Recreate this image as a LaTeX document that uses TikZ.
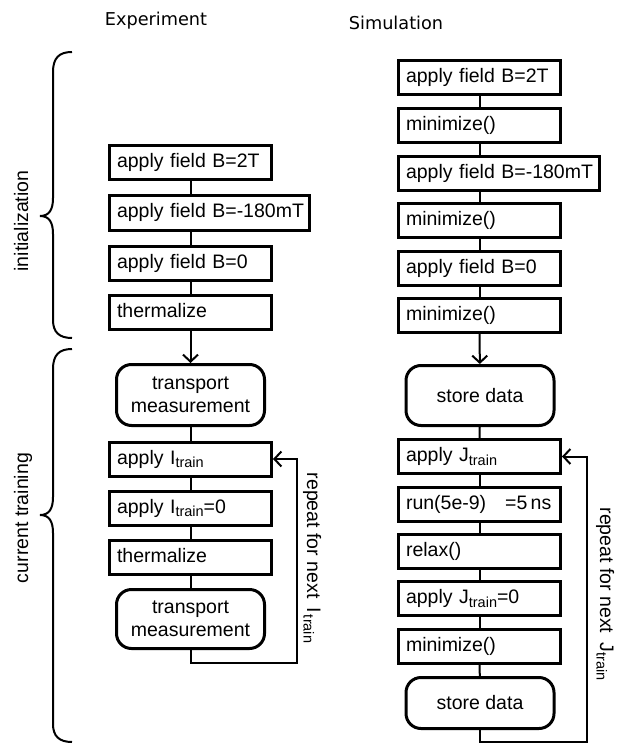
\documentclass[tikz,border=0pt]{standalone}
\usepackage{fontspec}
\setmainfont{Liberation Sans}
\newfontfamily\titlefont{DejaVu Sans}
\usetikzlibrary{arrows.meta}
\newcommand{\lowtxt}[1]{\raisebox{-3.5pt}{\fontsize{14.5}{15}\selectfont #1}}

\begin{document}
\begin{tikzpicture}
      [x=1pt,y=-1pt,
       every node/.style={font=\fontsize{19.5}{23}\selectfont},
       stepbox/.style={draw,line width=3pt,anchor=west,minimum height=34pt,inner xsep=7.5pt,inner ysep=0pt,
                       text width=#1,align=left,text height=14pt,text depth=4pt},
       stepbox/.default=147pt,
       endbox/.style={draw,line width=3pt,rounded corners=15pt,minimum width=148pt,align=center},
       link/.style={line width=2pt},
       flow/.style={line width=2pt,-{Straight Barb[length=7pt,width=15pt]}},
       brace/.style={line width=2pt}]
      \useasboundingbox (0,0) rectangle (634,751);

      % column titles
      \node[font=\titlefont\fontsize{17.7}{20}\selectfont,anchor=base] (exptitle) at (156,26) {Experiment};
      \node[font=\titlefont\fontsize{17.7}{20}\selectfont,anchor=base] (simtitle) at (396,30) {Simulation};

      % experiment
      \node[stepbox] (e1) at (108,163) {apply field B=2T};
      \node[stepbox=185pt] (e2) at (108,213) {\mbox{apply field B=-180mT}};
      \node[stepbox] (e3) at (108,263) {apply field B=0};
      \node[stepbox] (e4) at (108,312) {thermalize};
      \node[endbox,minimum height=61pt] (e5) at (190.5,395) {transport\\measurement};
      \node[stepbox] (e6) at (108,459) {apply I\lowtxt{train}};
      \node[stepbox] (e7) at (108,508) {apply I\lowtxt{train}=0};
      \node[stepbox] (e8) at (108,557) {thermalize};
      \node[endbox,minimum height=59pt] (e9) at (190.5,619) {transport\\measurement};
      \coordinate (eback) at (297,663);

      \draw[link] (e1.south) -- (e1.south |- e2.north);
      \draw[link] (e3.north |- e2.south) -- (e3.north);
      \draw[link] (e3) -- (e4);
      \draw[flow] (e4) -- (e5);
      \draw[link] (e5) -- (e6);
      \draw[link] (e6) -- (e7);
      \draw[link] (e7) -- (e8);
      \draw[link] (e8) -- (e9);
      \draw[flow] (e9.south) |- (eback) |- (e6.east);
      \node[rotate=-90,anchor=base] (erepeat) at (307,558) {repeat for next\hspace{9pt}I\hspace{2pt}\lowtxt{train}};

      % simulation
      \node[stepbox] (s1) at (397,78) {apply field B=2T};
      \node[stepbox] (s2) at (397,125.5) {minimize()};
      \node[stepbox=186pt] (s3) at (397,173.5) {\mbox{apply field B=-180mT}};
      \node[stepbox] (s4) at (397,220.5) {minimize()};
      \node[stepbox] (s5) at (397,268) {apply field B=0};
      \node[stepbox] (s6) at (397,315) {minimize()};
      \node[endbox,minimum height=60pt] (s7) at (480,395.5) {store data};
      \node[stepbox] (s8) at (397,456.5) {apply J\lowtxt{train}};
      \node[stepbox] (s9) at (397,504.5) {\mbox{run(5e-9)\hspace{19pt}=5\,ns}};
      \node[stepbox] (s10) at (397,551.5) {relax()};
      \node[stepbox] (s11) at (397,598.5) {apply J\lowtxt{train}=0};
      \node[stepbox] (s12) at (397,646) {minimize()};
      \node[endbox,minimum height=51pt] (s13) at (480,703) {store data};
      \coordinate (sback) at (587,742);

      \draw[link] (s1) -- (s2);
      \draw[link] (s2.south) -- (s2.south |- s3.north);
      \draw[link] (s4.north |- s3.south) -- (s4.north);
      \draw[link] (s4) -- (s5);
      \draw[link] (s5) -- (s6);
      \draw[flow] (s6) -- (s7);
      \draw[link] (s7) -- (s8);
      \draw[link] (s8) -- (s9);
      \draw[link] (s9) -- (s10);
      \draw[link] (s10) -- (s11);
      \draw[link] (s11) -- (s12);
      \draw[link] (s12) -- (s13);
      \draw[flow] (s13.south) |- (sback) |- (s8.east);
      \node[rotate=-90,anchor=base] (srepeat) at (600,594) {repeat for next\hspace{9pt}J\lowtxt{train}};

      % phases
      \draw[brace] (72,52) .. controls (59,52) and (53,58) .. (53,72) -- (53,198)
        .. controls (53,210) and (49,216) .. (40,216) .. controls (49,216) and (53,222) .. (53,234)
        -- (53,320) .. controls (53,332) and (59,338) .. (72,338);
      \draw[brace] (72,349) .. controls (59,349) and (53,355) .. (53,369) -- (53,497)
        .. controls (53,509) and (49,515) .. (40,515) .. controls (49,515) and (53,521) .. (53,533)
        -- (53,724) .. controls (53,736) and (59,742) .. (72,742);
      \node[rotate=90,anchor=base] (initlabel) at (28,221) {initialization};
      \node[rotate=90,anchor=base] (trainlabel) at (28,518) {current training};
    \end{tikzpicture}
\end{document}
